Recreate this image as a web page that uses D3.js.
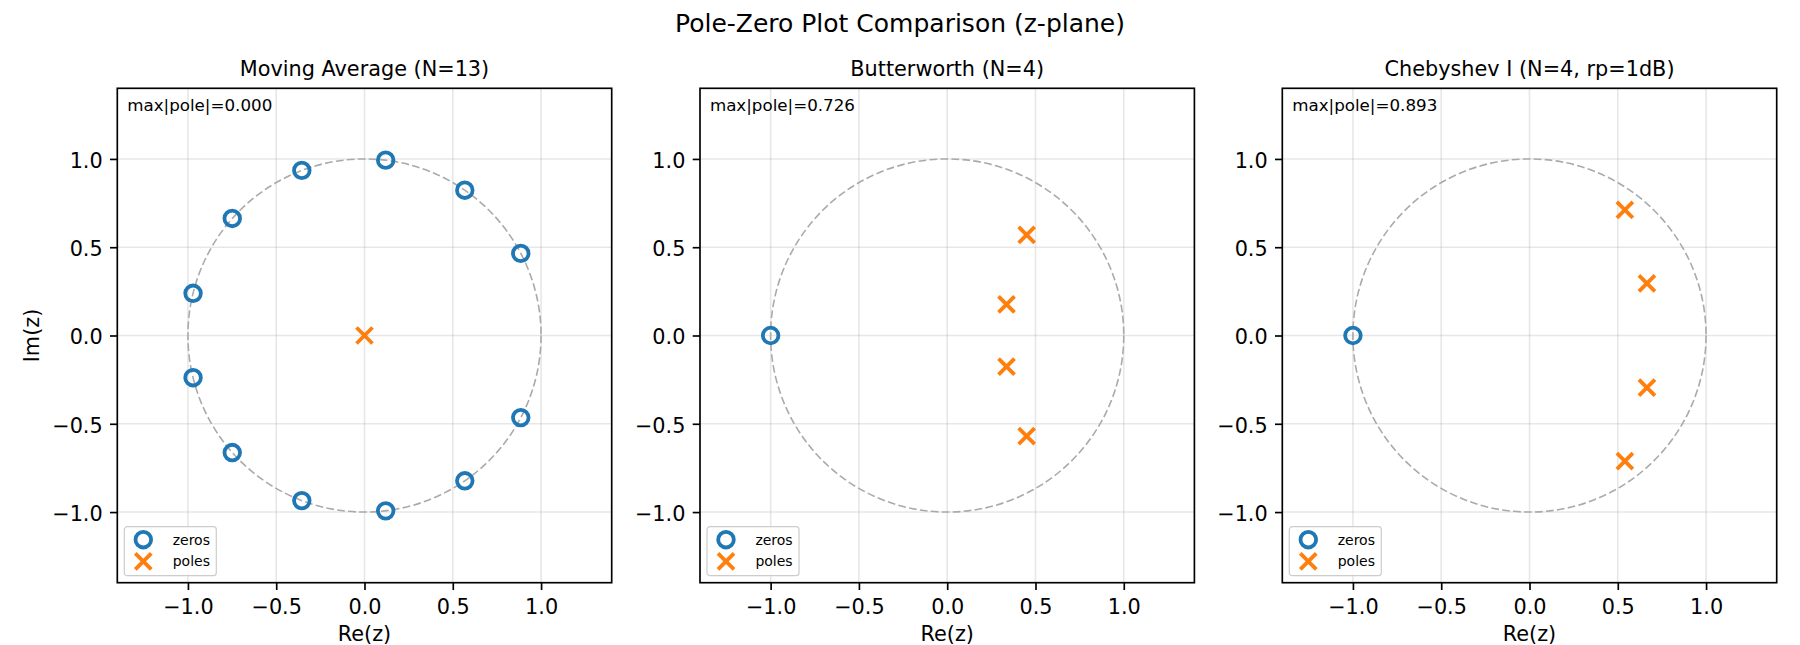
<!DOCTYPE html>
<html>
<head>
<meta charset="utf-8">
<script src="https://cdn.jsdelivr.net/npm/d3@7"></script>
<style>
  body { margin: 0; background: #fff; }
  svg { display: block; font-family: "DejaVu Sans", sans-serif; }
</style>
</head>
<body>
<svg id="chart" width="1800" height="645"></svg>
<script>
// Pole-zero plots for three filters, one z-plane panel each.

const suptitle = "Pole-Zero Plot Comparison (z-plane)";
const panelTitles = ["Moving Average (N=13)", "Butterworth (N=4)", "Chebyshev I (N=4, rp=1dB)"];
const maxPoleLabels = ["max|pole|=0.000", "max|pole|=0.726", "max|pole|=0.893"];

// [re, im] pairs
const movingAvgZeros = [
  [0.885, 0.465], [0.568, 0.823], [0.120, 0.993], [-0.355, 0.935], [-0.749, 0.663], [-0.971, 0.239],
  [-0.971, -0.239], [-0.749, -0.663], [-0.355, -0.935], [0.120, -0.993], [0.568, -0.823], [0.885, -0.465]
];
const movingAvgPoles = [[0, 0]];
const butterworthZeros = [[-1, 0]];
const butterworthPoles = [[0.450, 0.570], [0.336, 0.176], [0.336, -0.176], [0.450, -0.570]];
const chebyshevZeros = [[-1, 0]];
const chebyshevPoles = [[0.540, 0.711], [0.665, 0.295], [0.665, -0.295], [0.540, -0.711]];

const tickValues = [-1, -0.5, 0, 0.5, 1];
const axisLimits = [-1.4, 1.4];
const legendLabels = ["zeros", "poles"];

const panels = [
  { zeros: movingAvgZeros, poles: movingAvgPoles },
  { zeros: butterworthZeros, poles: butterworthPoles },
  { zeros: chebyshevZeros, poles: chebyshevPoles }
];

const svg = d3.select("#chart");
const axLefts = [117.3, 700, 1282.3];
const axWidth = 494.4;
const axTop = 88.3, axBottom = 582.7;
const zeroColor = "#1f77b4", poleColor = "#ff7f0e";
const markerStroke = 3.8;
const fmt = d3.format(".1f");

svg.append("text")
  .attr("x", 900).attr("y", 32)
  .attr("text-anchor", "middle")
  .attr("font-size", 25)
  .text(suptitle);

function xMarker(sel, s) {
  return sel.append("path")
    .attr("d", `M${-s},${-s}L${s},${s}M${-s},${s}L${s},${-s}`)
    .attr("fill", "none")
    .attr("stroke", poleColor)
    .attr("stroke-width", markerStroke);
}

function oMarker(sel, r) {
  return sel.append("circle")
    .attr("r", r)
    .attr("fill", "none")
    .attr("stroke", zeroColor)
    .attr("stroke-width", markerStroke);
}

panels.forEach((p, i) => {
  const left = axLefts[i];
  const x = d3.scaleLinear().domain(axisLimits).range([left, left + axWidth]);
  const y = d3.scaleLinear().domain(axisLimits).range([axBottom, axTop]);
  const g = svg.append("g");

  // grid
  g.append("g").selectAll("line.gx").data(tickValues).join("line")
    .attr("x1", d => x(d)).attr("x2", d => x(d))
    .attr("y1", axTop).attr("y2", axBottom)
    .attr("stroke", "#b0b0b0").attr("stroke-opacity", 0.3).attr("stroke-width", 1.6);
  g.append("g").selectAll("line.gy").data(tickValues).join("line")
    .attr("y1", d => y(d)).attr("y2", d => y(d))
    .attr("x1", left).attr("x2", left + axWidth)
    .attr("stroke", "#b0b0b0").attr("stroke-opacity", 0.3).attr("stroke-width", 1.6);

  // unit circle
  g.append("ellipse")
    .attr("cx", x(0)).attr("cy", y(0))
    .attr("rx", x(1) - x(0)).attr("ry", y(0) - y(1))
    .attr("fill", "none")
    .attr("stroke", "#aaaaaa")
    .attr("stroke-width", 1.6)
    .attr("stroke-dasharray", "7.7,3.3");

  g.append("g").selectAll("g").data(p.zeros).join("g")
    .attr("transform", d => `translate(${x(d[0])},${y(d[1])})`)
    .each(function () { oMarker(d3.select(this), 7.8); });

  g.append("g").selectAll("g").data(p.poles).join("g")
    .attr("transform", d => `translate(${x(d[0])},${y(d[1])})`)
    .each(function () { xMarker(d3.select(this), 8); });

  // axes
  const xAxis = g.append("g")
    .attr("transform", `translate(0,${axBottom})`)
    .call(d3.axisBottom(x).tickValues(tickValues).tickFormat(fmt).tickSize(7.3).tickPadding(7.3).tickSizeOuter(0));
  xAxis.select(".domain").remove();
  xAxis.selectAll("line").attr("stroke", "#000").attr("stroke-width", 1.67);
  xAxis.selectAll("text").attr("font-size", 20.8).attr("fill", "#000").attr("dy", "0.78em")
    .attr("font-family", "DejaVu Sans");

  const yAxis = g.append("g")
    .attr("transform", `translate(${left},0)`)
    .call(d3.axisLeft(y).tickValues(tickValues).tickFormat(fmt).tickSize(7.3).tickPadding(7.3).tickSizeOuter(0));
  yAxis.select(".domain").remove();
  yAxis.selectAll("line").attr("stroke", "#000").attr("stroke-width", 1.67);
  yAxis.selectAll("text").attr("font-size", 20.8).attr("fill", "#000").attr("dy", "0.4em")
    .attr("font-family", "DejaVu Sans");

  // spines
  g.append("rect")
    .attr("x", left).attr("y", axTop)
    .attr("width", axWidth).attr("height", axBottom - axTop)
    .attr("fill", "none").attr("stroke", "#000").attr("stroke-width", 1.67);

  g.append("text")
    .attr("x", left + axWidth / 2).attr("y", axTop - 12.5)
    .attr("text-anchor", "middle").attr("font-size", 20.8)
    .text(panelTitles[i]);

  g.append("text")
    .attr("x", left + axWidth * 0.02).attr("y", 111)
    .attr("font-size", 16.7)
    .text(maxPoleLabels[i]);

  g.append("text")
    .attr("x", left + axWidth / 2).attr("y", 641)
    .attr("text-anchor", "middle").attr("font-size", 20.8)
    .text("Re(z)");

  if (i === 0) {
    g.append("text")
      .attr("transform", `translate(39,${(axTop + axBottom) / 2}) rotate(-90)`)
      .attr("text-anchor", "middle").attr("font-size", 20.8)
      .text("Im(z)");
  }

  // legend, lower left
  const lg = g.append("g").attr("transform", `translate(${left + 7},${axBottom - 7 - 49})`);
  lg.append("rect")
    .attr("width", 92).attr("height", 49).attr("rx", 3)
    .attr("fill", "#fff").attr("fill-opacity", 0.8)
    .attr("stroke", "#cccccc").attr("stroke-width", 1.2);
  oMarker(lg.append("g").attr("transform", "translate(19,13)"), 7.8);
  xMarker(lg.append("g").attr("transform", "translate(19,34.7)"), 8);
  lg.selectAll("text.lab").data(legendLabels).join("text")
    .attr("x", 48.4).attr("y", (d, k) => 18 + k * 21.7)
    .attr("font-size", 14)
    .text(d => d);
});
</script>
</body>
</html>
